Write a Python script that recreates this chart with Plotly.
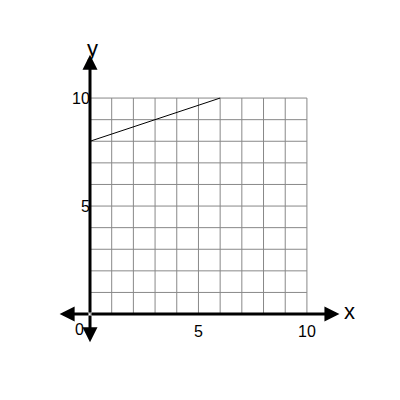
import plotly.graph_objects as go

line_x = [0, 6]
line_y = [8, 10]
grid_vals = list(range(0, 11))
x_tick_labels = {5: "5", 10: "10"}
y_tick_labels = {5: "5", 10: "10"}

fig = go.Figure()
fig.add_trace(go.Scatter(x=line_x, y=line_y, mode="lines",
                         line=dict(color="black", width=1), showlegend=False))

# grid
for v in grid_vals:
    fig.add_shape(type="line", x0=v, x1=v, y0=0, y1=10, line=dict(color="#888", width=1), layer="below")
    fig.add_shape(type="line", x0=0, x1=10, y0=v, y1=v, line=dict(color="#888", width=1), layer="below")

# axes with arrowheads on both ends
def arrow(x0, y0, x1, y1):
    fig.add_annotation(x=x1, y=y1, ax=x0, ay=y0, xref="x", yref="y", axref="x", ayref="y",
                       showarrow=True, arrowhead=2, arrowsize=1, arrowwidth=3, arrowcolor="black", text="")
arrow(0, 0, 11.5, 0)
arrow(0, 0, -1.4, 0)
arrow(0, 0, 0, 12.0)
arrow(0, 0, 0, -1.3)

font = dict(family="Liberation Sans, Arial", size=16, color="black")
for v, t in x_tick_labels.items():
    fig.add_annotation(x=v, y=-0.8, text=t, showarrow=False, font=font)
for v, t in y_tick_labels.items():
    fig.add_annotation(x=0.1, y=v, text=t, showarrow=False, font=font, xanchor="right")
fig.add_annotation(x=-0.5, y=-0.7, text="0", showarrow=False, font=font)
big = dict(family="Liberation Sans, Arial", size=22, color="black")
fig.add_annotation(x=11.6, y=0.1, text="x", showarrow=False, font=big, xanchor="left")
fig.add_annotation(x=0.1, y=12.3, text="y", showarrow=False, font=big)

fig.update_xaxes(range=[-3.78, 14.66], visible=False)
fig.update_yaxes(range=[-4.35, 14.17], visible=False)
fig.update_layout(width=400, height=400, margin=dict(l=0, r=0, t=0, b=0),
                  plot_bgcolor="white", paper_bgcolor="white")
fig.write_html("out.html")
